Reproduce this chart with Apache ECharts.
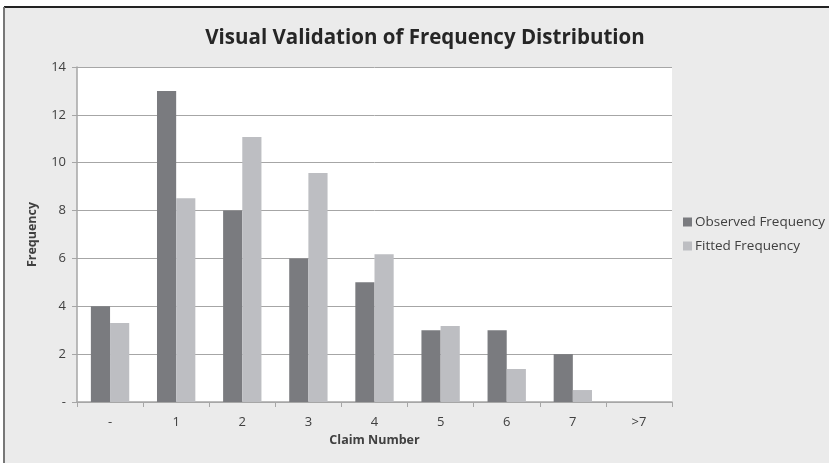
<!DOCTYPE html>
<html><head><meta charset="utf-8">
<script src="https://cdn.jsdelivr.net/npm/echarts@6/dist/echarts.min.js"></script>
<style>html,body{margin:0;padding:0;background:#fff}#c{width:829px;height:463px}</style>
</head><body><div id="c"></div>
<script>
const categories = ['-', '1', '2', '3', '4', '5', '6', '7', '>7'];
const observed = [4, 13, 8, 6, 5, 3, 3, 2, 0];
const fitted = [3.3, 8.52, 11.07, 9.57, 6.17, 3.18, 1.38, 0.5, 0];
const titleText = 'Visual Validation of Frequency Distribution';
const yName = 'Frequency';
const xName = 'Claim Number';
const seriesNames = ['Observed Frequency', 'Fitted Frequency'];

const chart = echarts.init(document.getElementById('c'));
const font = 'Open Sans';
chart.setOption({
  animation: false,
  backgroundColor: '#fff',
  graphic: [
    {type: 'rect', z: -10, silent: true, shape: {x: 4, y: 7, width: 825, height: 460}, style: {fill: '#ebebeb'}},
    {type: 'line', z: -5, silent: true, shape: {x1: 4, y1: 7, x2: 829, y2: 7}, style: {stroke: '#222', lineWidth: 2}},
    {type: 'line', z: -5, silent: true, shape: {x1: 4, y1: 7, x2: 4, y2: 463}, style: {stroke: '#777', lineWidth: 2}},
    {type: 'rect', z: -4, silent: true, shape: {x: 77, y: 67, width: 595, height: 335}, style: {fill: '#fff'}}
  ],
  title: {
    text: titleText, left: 420, top: 23, textAlign: 'center',
    textStyle: {fontFamily: font, fontSize: 20.5, fontWeight: 'bold', color: '#262626'}
  },
  legend: {
    orient: 'vertical', left: 678, top: 210, itemGap: 10,
    itemWidth: 9, itemHeight: 9, icon: 'rect',
    textStyle: {fontFamily: font, fontSize: 13.5, color: '#404040', padding: [0, 0, 0, -2]},
    data: seriesNames
  },
  grid: {left: 77, right: 157, top: 67, bottom: 61},
  xAxis: {
    type: 'category', data: categories,
    name: xName, nameLocation: 'middle', nameGap: 32,
    nameTextStyle: {fontFamily: font, fontSize: 12.5, fontWeight: 'bold', color: '#404040'},
    axisLine: {lineStyle: {color: '#a6a6a6', width: 1.5}},
    axisTick: {show: true, length: 5, lineStyle: {color: '#a6a6a6'}},
    axisLabel: {fontFamily: font, fontSize: 13, color: '#404040', margin: 14}
  },
  yAxis: {
    type: 'value', min: 0, max: 14, interval: 2,
    name: yName, nameLocation: 'middle', nameGap: 38,
    nameTextStyle: {fontFamily: font, fontSize: 12.5, fontWeight: 'bold', color: '#404040'},
    axisLine: {show: true, lineStyle: {color: '#a6a6a6', width: 1.5}},
    axisTick: {show: true, length: 5, lineStyle: {color: '#a6a6a6'}},
    splitLine: {lineStyle: {color: '#a6a6a6', width: 1}},
    axisLabel: {fontFamily: font, fontSize: 13, color: '#404040', margin: 11,
      formatter: v => v === 0 ? '-' : String(v)}
  },
  series: [
    {name: seriesNames[0], type: 'bar', data: observed, barGap: '0%', barCategoryGap: '42%',
     itemStyle: {color: '#7a7b7f'}},
    {name: seriesNames[1], type: 'bar', data: fitted,
     itemStyle: {color: '#bdbec2'}}
  ]
});
</script></body></html>
